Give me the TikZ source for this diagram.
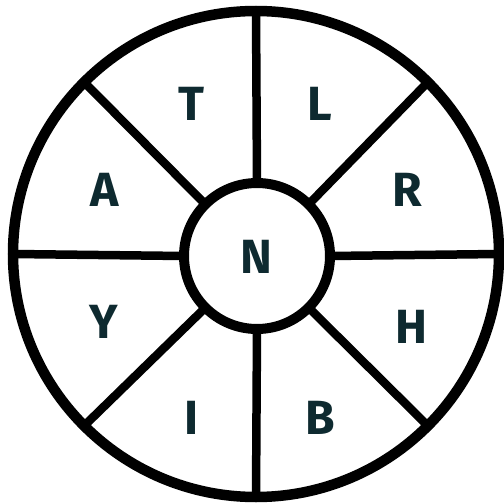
\documentclass[tikz,border=0pt]{standalone}
\usepackage{fontspec}
\setmainfont{Fira Sans}
\usepackage{xcolor}
\definecolor{inkteal}{HTML}{0E2A30}
\tikzset{
  wheel/.style={draw=black, circle, inner sep=0pt, outer sep=0pt},
  spoke/.style={line width=8.5pt, black},
  letter/.style={text=inkteal, inner sep=0pt, font=\fontsize{48}{48}\selectfont\bfseries}
}
\begin{document}
\begin{tikzpicture}[x=1pt, y=-1pt]
  \useasboundingbox (0,0) rectangle (504,503);
  % rim and hub
  \node[wheel, line width=10.5pt, minimum size=486pt] (rim) at (256,254) {};
  \node[wheel, line width=10pt, minimum size=146pt, fill=white] (hub) at (257,256) {};
  % spokes
  \foreach \a in {0,45,...,315}
    \draw[spoke] (hub.\a) -- (rim.\a);
  % letters
  \node[letter] (n) at (256,257) {N};
  \node[letter] (t) at (191,104) {T};
  \node[letter] (l) at (320,104) {L};
  \node[letter] (a) at (105,190) {A};
  \node[letter] (r) at (407,190) {R};
  \node[letter] (y) at (104,322) {Y};
  \node[letter] (h) at (411,327) {H};
  \node[letter] (i) at (192,418) {I};
  \node[letter] (b) at (320,418) {B};
\end{tikzpicture}
\end{document}
